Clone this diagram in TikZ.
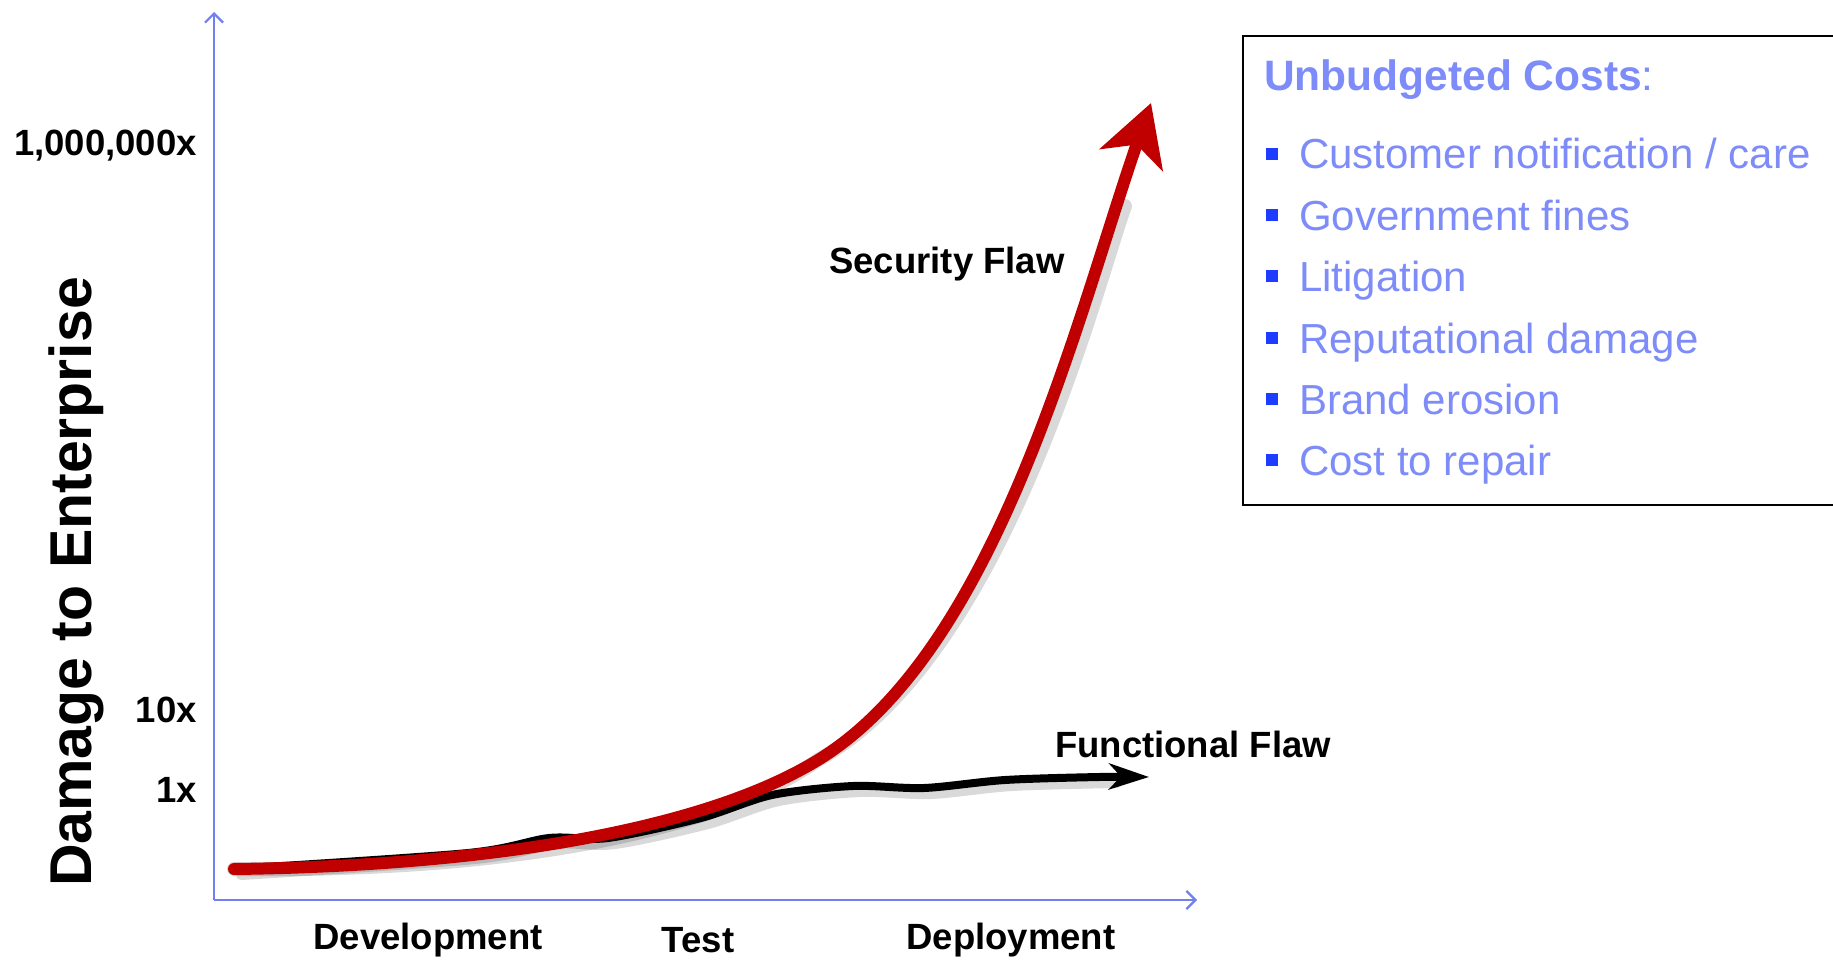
\documentclass[tikz,border=0pt]{standalone}
\usepackage{fontspec}
\setmainfont{Liberation Sans}
\usetikzlibrary{arrows.meta}
\definecolor{axisblue}{RGB}{112,128,240}
\definecolor{txtblue}{RGB}{125,140,248}
\definecolor{bulletblue}{RGB}{30,60,255}
\definecolor{flawred}{RGB}{192,0,0}
\tikzset{
  lbl/.style={font=\fontsize{36.5}{40}\selectfont\bfseries, text=black, inner sep=0pt},
  axisline/.style={draw=axisblue, line width=2.2pt, -{Straight Barb[length=9pt,width=18pt,line width=2.2pt]}},
  item/.style={font=\fontsize{42}{46}\selectfont, text=txtblue, inner sep=0pt, anchor=base west},
  bulletsq/.style={fill=bulletblue, minimum size=12.5pt, inner sep=0pt, draw=none},
  shadowline/.style={draw=black, opacity=0.15, line cap=round},
}
\begin{document}
\begin{tikzpicture}[x=1pt,y=-1pt]
\useasboundingbox (0,0) rectangle (1833,960);
\fill[white] (0,0) rectangle (1833,960);

% axes
\coordinate (O) at (214,900);
\coordinate (Ytop) at (214,12);
\coordinate (Xend) at (1197,900);
\draw[axisline] (O) -- (Ytop);
\draw[axisline] (O) -- (Xend);

% axis labels
\node[lbl, anchor=east] (l1m) at (197,146) {1,000,000x};
\node[lbl, anchor=east] (l10) at (197,710) {10x};
\node[lbl, anchor=east] (l1) at (197,790) {1x};
\node[font=\fontsize{59}{64}\selectfont\bfseries, rotate=90, inner sep=0pt] (ylab) at (76,582) {Damage to Enterprise};
\node[lbl] (dev) at (428,940) {Development};
\node[lbl] (test) at (698,940) {Test};
\node[lbl] (dep) at (1011,940) {Deployment};

% curve key points
\coordinate (S) at (234,869);
\coordinate (M) at (818,760);
\coordinate (Rtip) at (1151,103);
\coordinate (Btip) at (1149,777);

% shadows
\begin{scope}[shift={(7,6)}]
\draw[shadowline, line width=10pt] plot[smooth, tension=0.5] coordinates {(234,869) (468,853) (549,838) (608,838) (701,818) (772,795) (853,786) (924,788) (1005,780) (1110,777)};
\draw[shadowline, line width=14pt] (S) .. controls (480,866) and (700,832) .. (M) .. controls (998,650) and (1088,283) .. (1118,200);
\end{scope}

% functional flaw curve
\draw[black, line width=8pt, line cap=round, -{Stealth[length=40pt,width=26pt,inset=12pt]}]
  plot[smooth, tension=0.5] coordinates {(234,869) (468,853) (549,838) (608,838) (701,818) (772,795) (853,786) (924,788) (1005,780) (1099,777) (1149,777)};

% security flaw curve
\draw[flawred, line width=12pt, line cap=round, -{Stealth[length=60pt,width=66pt,inset=16pt]}]
  (S) .. controls (480,866) and (700,832) .. (M) .. controls (998,650) and (1078,313) .. (Rtip);

\node[lbl] (sec) at (947,264) {Security Flaw};
\node[lbl] (fun) at (1193,744) {Functional Flaw};

% cost box
\draw[black, line width=2pt] (1243,36) rectangle (1850,505);
\node[item, font=\fontsize{42.5}{46}\selectfont] (title) at (1264,91) {\textbf{Unbudgeted Costs}:};
\foreach \y/\t [count=\i] in {169/{Customer notification / care}, 230/{Government fines}, 291/{Litigation}, 353/{Reputational damage}, 414/{Brand erosion}, 475/{Cost to repair}}{
  \node[bulletsq] (b\i) at (1272,\y-15) {};
  \node[item] (t\i) at (1299,\y) {\t};
}
\end{tikzpicture}
\end{document}
